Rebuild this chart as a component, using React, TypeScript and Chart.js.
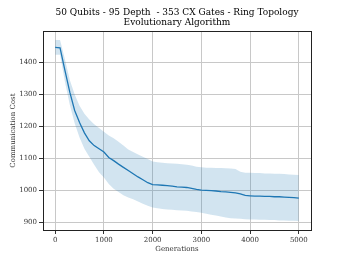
import { useEffect, useRef } from 'react';
import { Chart, registerables } from 'chart.js';

Chart.register(...registerables);

const titleLines = ['50 Qubits - 95 Depth  - 353 CX Gates - Ring Topology', 'Evolutionary Algorithm'];
const xAxisTitle = 'Generations';
const yAxisTitle = 'Communication Cost';

const generations = [
  0, 100, 200, 300, 400, 500, 600, 700, 800, 900,
  1000, 1100, 1200, 1300, 1400, 1500, 1600, 1700, 1800, 1900,
  2000, 2100, 2200, 2300, 2400, 2500, 2600, 2700, 2800, 2900,
  3000, 3100, 3200, 3300, 3400, 3500, 3600, 3700, 3800, 3900,
  4000, 4100, 4200, 4300, 4400, 4500, 4600, 4700, 4800, 4900, 5000,
];

const meanCost = [
  1447, 1446, 1375, 1307, 1250, 1212, 1180, 1155, 1140, 1130,
  1120, 1103, 1093, 1082, 1072, 1062, 1052, 1042, 1033, 1024,
  1018, 1017, 1016, 1015, 1013, 1011, 1010, 1009, 1006, 1003,
  1001, 1000, 999, 998, 996, 995, 994, 992, 989, 984,
  983, 982, 982, 981, 981, 980, 980, 979, 978, 977, 976,
];

const upperCost = [
  1470, 1470, 1410, 1345, 1300, 1265, 1240, 1222, 1207, 1195,
  1183, 1172, 1163, 1152, 1140, 1128, 1120, 1112, 1105, 1098,
  1090, 1088, 1086, 1085, 1084, 1083, 1082, 1080, 1078, 1074,
  1072, 1071, 1071, 1070, 1070, 1069, 1068, 1067, 1058, 1055,
  1055, 1054, 1054, 1053, 1053, 1052, 1052, 1051, 1050, 1049, 1048,
];

const lowerCost = [
  1424, 1424, 1340, 1268, 1210, 1165, 1130, 1105, 1080, 1057,
  1040, 1020, 1005, 995, 985, 978, 972, 965, 958, 952,
  946, 944, 942, 940, 939, 938, 937, 936, 934, 932,
  930, 927, 924, 921, 918, 915, 913, 912, 911, 910,
  909, 909, 908, 908, 907, 907, 906, 906, 905, 905, 904,
];

const xTicks = [0, 1000, 2000, 3000, 4000, 5000];
const yTicks = [900, 1000, 1100, 1200, 1300, 1400];

const FONT = "'DejaVu Serif', serif";

const framePlugin = {
  id: 'frame',
  afterDraw(chart: any) {
    const { ctx, chartArea } = chart;
    ctx.save();
    ctx.strokeStyle = '#222';
    ctx.lineWidth = 1;
    ctx.strokeRect(
      Math.round(chartArea.left) + 0.5,
      Math.round(chartArea.top) + 0.5,
      Math.round(chartArea.right - chartArea.left),
      Math.round(chartArea.bottom - chartArea.top)
    );
    ctx.restore();
  },
};

export default function App() {
  const ref = useRef<HTMLCanvasElement | null>(null);

  useEffect(() => {
    if (!ref.current) return;
    const toPts = (arr: number[]) => generations.map((g, i) => ({ x: g, y: arr[i] }));
    const chart = new Chart(ref.current, {
      type: 'line',
      data: {
        datasets: [
          {
            data: toPts(upperCost),
            borderWidth: 0,
            pointRadius: 0,
            fill: '+1',
            backgroundColor: 'rgba(31,119,180,0.2)',
            borderColor: 'rgba(0,0,0,0)',
          },
          {
            data: toPts(lowerCost),
            borderWidth: 0,
            pointRadius: 0,
            fill: false,
            borderColor: 'rgba(0,0,0,0)',
          },
          {
            data: toPts(meanCost),
            borderWidth: 1.3,
            pointRadius: 0,
            fill: false,
            borderColor: '#1f77b4',
          },
        ],
      },
      options: {
        responsive: false,
        animation: false,
        layout: { padding: { left: 0, right: 35, top: 0, bottom: 0 } },
        plugins: {
          legend: { display: false },
          tooltip: { enabled: false },
          title: {
            display: true,
            fullSize: false,
            text: titleLines,
            color: '#000',
            font: { family: FONT, size: 9, weight: 'normal', lineHeight: 1.12 },
            padding: { top: 8, bottom: 3 },
          },
        },
        scales: {
          x: {
            type: 'linear',
            min: -250,
            max: 5250,
            afterBuildTicks: (s: any) => { s.ticks = xTicks.map((v) => ({ value: v })); },
            afterFit: (s: any) => { s.height = 29; },
            ticks: {
              color: '#333',
              font: { family: FONT, size: 7 },
              padding: 2,
              maxRotation: 0,
              callback: (v: any) => String(v),
            },
            grid: { color: '#c8c8c8', lineWidth: 1, tickLength: 4, tickColor: '#333' },
            border: { display: false },
            title: {
              display: true,
              text: xAxisTitle,
              color: '#333',
              font: { family: FONT, size: 7 },
              padding: { top: 0, bottom: 6 },
            },
          },
          y: {
            type: 'linear',
            min: 876,
            max: 1498,
            afterBuildTicks: (s: any) => { s.ticks = yTicks.map((v) => ({ value: v })); },
            afterFit: (s: any) => { s.width = 43; },
            ticks: {
              color: '#333',
              font: { family: FONT, size: 7 },
              padding: 2,
              callback: (v: any) => String(v),
            },
            grid: { color: '#c8c8c8', lineWidth: 1, tickLength: 4, tickColor: '#333' },
            border: { display: false },
            title: {
              display: true,
              text: yAxisTitle,
              color: '#333',
              font: { family: FONT, size: 7 },
              padding: { top: 9, bottom: 0 },
            },
          },
        },
      },
      plugins: [framePlugin],
    } as any);
    return () => chart.destroy();
  }, []);

  return (
    <div style={{ position: 'absolute', left: 0, top: 0, width: 346, height: 259, background: '#fff' }}>
      <canvas ref={ref} width={346} height={259} />
    </div>
  );
}
